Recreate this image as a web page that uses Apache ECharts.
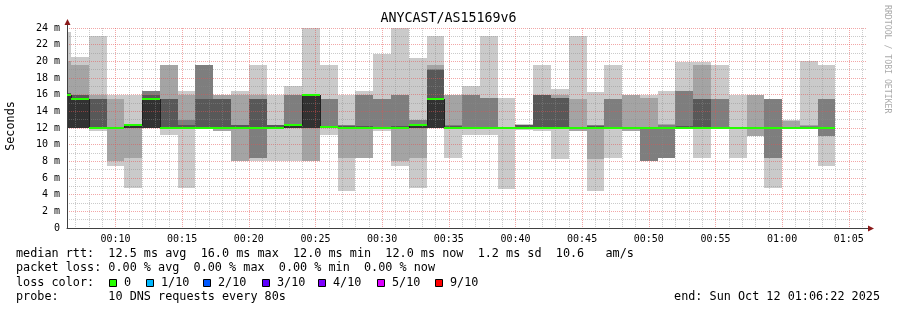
<!DOCTYPE html>
<html><head><meta charset="utf-8">
<script src="https://cdn.jsdelivr.net/npm/echarts@6/dist/echarts.min.js"></script>
<style>html,body{margin:0;padding:0;background:#fff}#c{width:897px;height:310px}</style>
</head><body><div id="c"></div>
<script>
// ---- data ----
const chartTitle = 'ANYCAST/AS15169v6';
const axisStart = '00:06:22';
const axisEnd = '01:06:22';
const stepSeconds = 80;
const stepEnds = ['00:06:40','00:08:00','00:09:20','00:10:40','00:12:00','00:13:20','00:14:40','00:16:00','00:17:20','00:18:40',
  '00:20:00','00:21:20','00:22:40','00:24:00','00:25:20','00:26:40','00:28:00','00:29:20','00:30:40','00:32:00',
  '00:33:20','00:34:40','00:36:00','00:37:20','00:38:40','00:40:00','00:41:20','00:42:40','00:44:00','00:45:20',
  '00:46:40','00:48:00','00:49:20','00:50:40','00:52:00','00:53:20','00:54:40','00:56:00','00:57:20','00:58:40',
  '01:00:00','01:01:20','01:02:40','01:04:00'];
// sorted ping times (ms) of the 10 DNS requests per step
const pings = [
 [12,12,12,12,12,16,16.2,16.2,20,23.5],
 [12,12,12,12,12,15.5,16,16,19.6,20.5],
 [11.6,12,12,12,12,12,15.5,15.5,16,23],
 [7.5,8,12,12,12,12,12,12,15.5,16],
 [4.8,8.4,12,12,12,12.4,12.5,12.5,12.5,16],
 [12,12,12,12,12,15.6,16,16.5,16.5,16.5],
 [11.2,12,12,12,12,12,15.5,15.5,19.6,19.6],
 [4.8,12,12,12,12,12,12.4,12.9,16,16.5],
 [12,12,12,12,12,12.1,15.5,19.6,19.6,19.6],
 [11.6,11.6,12,12,12,12,15.5,15.5,16,16],
 [8,8,12,12,12,12.1,12.4,12.4,16,16.5],
 [8,8.4,8.4,12,12,12,15.5,15.5,16,19.6],
 [8,12,12,12,12,12.1,12.4,12.4,12.4,16],
 [8,12,12,12,12,12.4,12.5,16,16,17],
 [8,8,12,12,12,16,16,16,16.1,24],
 [11.2,12,12,12,12.1,12.1,12.2,15.5,15.5,19.6],
 [4.4,8.4,12,12,12,12.1,12.2,12.3,12.3,16],
 [8.4,8.4,12,12,12,12.1,12.2,16,16,16.5],
 [11.6,12,12,12,12,12,12.1,15.5,15.5,20.9],
 [7.5,8,12,12,12,12.1,12.2,16,16,24],
 [4.8,8.4,12,12,12,12.4,12.5,12.9,12.9,20.4],
 [12,12,12,12,12,15.5,19,19.1,19.6,23],
 [8.4,12,12,12,12,12.1,12.2,12.4,16,16],
 [11.2,12,12,12,12,12,12.1,16,16,17],
 [11.2,12,12,12,12,12,12.1,15.6,15.6,23],
 [4.7,12,12,12,12,12,12,12,12.1,15.6],
 [11.8,12,12,12,12,12,12.4,12.4,12.4,12.5],
 [11.6,12,12,12,12,12,16,16,16,19.6],
 [8.3,12,12,12,12,12,15.6,15.6,16,16.7],
 [11.6,11.6,12,12,12,12,12,12.1,15.5,23],
 [4.4,8.3,12,12,12,12.1,12.2,12.4,12.4,16.3],
 [8.4,12,12,12,12,12,12.1,15.5,15.5,19.6],
 [11.6,11.6,12,12,12,12,12,12.1,16,16],
 [8,8,8,12,12,12,12.1,12.1,15.6,16],
 [8.4,8.4,8.4,12,12,12,12.1,12.4,12.5,16.4],
 [12,12,12,12,12,12.1,12.2,16.4,16.4,19.9],
 [8.4,12,12,12,12,12.1,15.5,15.5,19.6,19.9],
 [12,12,12,12,12,12,12,15.5,15.5,19.6],
 [8.4,12,12,12,12,12,12,12,12.1,16],
 [11,11,12,12,12,12,12,12.1,16,16],
 [4.8,8.4,8.4,12,12,12,12,15.5,15.5,15.5],
 [12,12,12,12,12,12,12,12,12.8,12.9],
 [12,12,12,12,12,12,12.1,12.2,12.3,20],
 [7.5,11,11,12,12,12,12,15.5,15.5,19.6]
];
const medians = [16,15.5,12,12,12.4,15.5,12,12,12,12,12,12,12,12.4,16,12.1,12,12,12,12,12.4,15.5,12,12,12,12,12,12,12,12,12,12,12,12,12,12,12,12,12,12,12,12,12,12];
const lossLabels = ['0','1/10','2/10','3/10','4/10','5/10','9/10'];
const statsLine1 = 'median rtt:  12.5 ms avg  16.0 ms max  12.0 ms min  12.0 ms now  1.2 ms sd  10.6   am/s';
const statsLine2 = 'packet loss: 0.00 % avg  0.00 % max  0.00 % min  0.00 % now';
const probeLine = 'probe:       10 DNS requests every 80s';
const endLine = 'end: Sun Oct 12 01:06:22 2025';

// ---- styles ----
const lossColors = ['#26ff00','#00b8ff','#0059ff','#5e00ff','#7e00ff','#dd00ff','#ff0000'];
const shades = ['#cacaca','#a4a4a4','#7e7e7e','#585858','#323232'];
const legendSqX = [109,146,203,262,318,377,435];
const MONO = 'DejaVu Sans Mono';

function toMin(s){const p=s.split(':').map(Number);return p[0]*60+p[1]+(p[2]||0)/60;}
const stepMin = stepSeconds/60;
const smokeData = pings.map((p,i)=>[toMin(stepEnds[i])].concat(p));
const medData = medians.map((m,i)=>[toMin(stepEnds[i]), m, i>0?medians[i-1]:m]);

const chart = echarts.init(document.getElementById('c'), null, {renderer:'canvas'});

function renderSmoke(params, api){
  const t1 = api.value(0), t0 = t1 - stepMin;
  const cs = params.coordSys;
  const children = [];
  for (let k=0;k<5;k++){
    const lo = api.value(1+k), hi = api.value(10-k);
    if (hi <= lo) continue;
    const a = api.coord([t0, hi]), b = api.coord([t1, lo]);
    const x0 = Math.round(Math.max(a[0], cs.x)), x1 = Math.round(Math.min(b[0], cs.x+cs.width));
    if (x1 <= x0) continue;
    const y0 = Math.round(a[1]), y1 = Math.round(b[1]);
    children.push({type:'rect', shape:{x:x0,y:y0,width:x1-x0,height:Math.max(1,y1-y0)}, style:{fill:shades[k]}});
  }
  return {type:'group', children};
}
function renderMedian(params, api){
  const t1 = api.value(0), t0 = t1 - stepMin;
  const cs = params.coordSys;
  const m = api.coord([t0, api.value(1)]);
  const e = api.coord([t1, api.value(1)]);
  const pm = api.coord([t0, api.value(2)]);
  const x0 = Math.round(Math.max(m[0], cs.x)), x1 = Math.round(Math.min(e[0], cs.x+cs.width));
  const children = [];
  if (m[0] >= cs.x && Math.abs(pm[1]-m[1])>0.5){
    children.push({type:'line', shape:{x1:x0+0.5,y1:Math.round(pm[1]),x2:x0+0.5,y2:Math.round(m[1])}, style:{stroke:'#202020',lineWidth:1}});
  }
  children.push({type:'rect', shape:{x:x0,y:Math.round(m[1])-1,width:x1-x0,height:2}, style:{fill:lossColors[0]}});
  return {type:'group', children};
}

const graphics = [
  {type:'text', left:'center', top:12, style:{text:chartTitle, font:'13.3px '+MONO, fill:'#000'}},
  {type:'text', x:11, y:126, rotation:Math.PI/2, style:{text:'Seconds', font:'11.8px '+MONO, fill:'#000', textAlign:'center', textVerticalAlign:'middle'}},
  {type:'text', x:887, y:5, rotation:-Math.PI/2, style:{text:'RRDTOOL / TOBI OETIKER', font:'8.2px '+MONO, fill:'#aaaaaa', textAlign:'left', textVerticalAlign:'middle'}},
  // axis overhangs and arrows
  {type:'line', shape:{x1:67.5,y1:28,x2:67.5,y2:23}, style:{stroke:'#404040',lineWidth:1}},
  {type:'polygon', shape:{points:[[67.5,19],[64.5,25],[70.5,25]]}, style:{fill:'#8b1a1a'}},
  {type:'line', shape:{x1:867,y1:228.5,x2:870,y2:228.5}, style:{stroke:'#404040',lineWidth:1}},
  {type:'polygon', shape:{points:[[874,228.5],[868,225.5],[868,231.5]]}, style:{fill:'#8b1a1a'}},
  {type:'text', x:16, y:254.3, style:{text:statsLine1, font:'11.8px '+MONO, fill:'#000', textVerticalAlign:'middle'}},
  {type:'text', x:16, y:268.3, style:{text:statsLine2, font:'11.8px '+MONO, fill:'#000', textVerticalAlign:'middle'}},
  {type:'text', x:16, y:282.7, style:{text:'loss color:', font:'11.8px '+MONO, fill:'#000', textVerticalAlign:'middle'}},
  {type:'text', x:16, y:296.7, style:{text:probeLine, font:'11.8px '+MONO, fill:'#000', textVerticalAlign:'middle'}},
  {type:'text', x:880, y:296.7, style:{text:endLine, font:'11.8px '+MONO, fill:'#000', textAlign:'right', textVerticalAlign:'middle'}}
];
lossLabels.forEach((lab,i)=>{
  graphics.push({type:'rect', shape:{x:legendSqX[i]+0.5,y:279.5,width:7,height:7}, style:{fill:lossColors[i], stroke:'#000', lineWidth:1}});
  graphics.push({type:'text', x:legendSqX[i]+15, y:282.7, style:{text:lab, font:'11.8px '+MONO, fill:'#000', textVerticalAlign:'middle'}});
});

chart.setOption({
  animation:false,
  backgroundColor:'#ffffff',
  grid:{left:67, right:30, top:28, bottom:82, containLabel:false},
  xAxis:{
    type:'value', min:toMin(axisStart), max:toMin(axisEnd), splitNumber:12, minInterval:5, maxInterval:5, z:3,
    axisLine:{show:true, onZero:false, lineStyle:{color:'#404040', width:1}},
    axisTick:{show:false},
    axisLabel:{show:true, margin:6, showMinLabel:false, showMaxLabel:false, color:'#000', fontFamily:MONO, fontSize:10,
      formatter:v=>{const t=Math.round(v);const h=Math.floor(t/60),mm=t%60;return String(h).padStart(2,'0')+':'+String(mm).padStart(2,'0');}},
    splitLine:{show:true, showMinLine:false, showMaxLine:false, lineStyle:{color:'rgba(230,80,80,0.5)', type:[1,1], width:1}},
    minorTick:{show:false, splitNumber:5},
    minorSplitLine:{show:true, lineStyle:{color:'rgba(140,140,140,0.45)', type:[1,1], width:1}}
  },
  yAxis:{
    type:'value', min:0, max:24, interval:2, z:3,
    axisLine:{show:true, lineStyle:{color:'#404040', width:1}},
    axisTick:{show:false},
    axisLabel:{margin:7, color:'#000', fontFamily:MONO, fontSize:10, formatter:v=>v===0?'0':v+' m'},
    splitLine:{show:true, showMinLine:false, lineStyle:{color:'rgba(230,80,80,0.5)', type:[1,1], width:1}},
    minorTick:{show:false, splitNumber:2},
    minorSplitLine:{show:true, lineStyle:{color:'rgba(140,140,140,0.45)', type:[1,1], width:1}}
  },
  series:[
    {type:'custom', name:'smoke', z:2, renderItem:renderSmoke, data:smokeData,
      encode:{x:0, y:[1,2,3,4,5,6,7,8,9,10]}, silent:true},
    {type:'custom', name:'median', z:5, renderItem:renderMedian, data:medData,
      encode:{x:0, y:[1,2]}, silent:true}
  ],
  graphic:graphics
});
</script></body></html>
